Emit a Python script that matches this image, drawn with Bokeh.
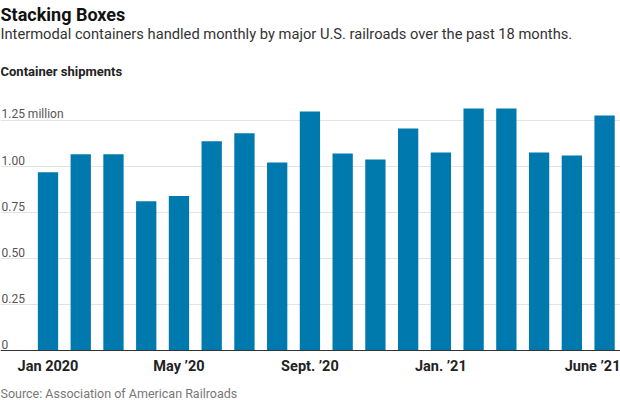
from bokeh.plotting import figure
from bokeh.models import Range1d, Span, Grid, FixedTicker
from bokeh.core.properties import value
from bokeh.embed import file_html
from bokeh.resources import INLINE

# ---------------- data ----------------
months = ["Jan 2020", "Feb 2020", "Mar 2020", "Apr 2020", "May 2020", "Jun 2020",
          "Jul 2020", "Aug 2020", "Sep 2020", "Oct 2020", "Nov 2020", "Dec 2020",
          "Jan 2021", "Feb 2021", "Mar 2021", "Apr 2021", "May 2021", "Jun 2021"]
shipments = [0.969, 1.067, 1.067, 0.811, 0.839, 1.137, 1.181, 1.022, 1.299,
             1.071, 1.038, 1.207, 1.076, 1.315, 1.315, 1.076, 1.060, 1.277]
x_tick_index = [0, 4, 8, 12, 17]
x_tick_labels = ["Jan 2020", "May \u201920", "Sept. \u201920", "Jan. \u201921", "June \u201921"]
y_ticks = [0, 0.25, 0.5, 0.75, 1.0, 1.25]
y_tick_labels = ["0", "0.25", "0.50", "0.75", "1.00", "1.25 million"]
title = "Stacking Boxes"
subtitle = "Intermodal containers handled monthly by major U.S. railroads over the past 18 months."
panel_title = "Container shipments"
source_note = "Source: Association of American Railroads"

# ---------------- layout ----------------
W, H = 620, 400
ZERO_PX = 350.0
TOP_TICK_PX = 120.0
PX_PER_UNIT = (ZERO_PX - TOP_TICK_PX) / y_ticks[-1]
FIRST_CENTER_PX = 47.5
PITCH_PX = 32.74
BAR_W = 0.62
DESCENT = 0.24  # compensation so that the visual baseline lands where wanted

x0 = -FIRST_CENTER_PX / PITCH_PX
x1 = x0 + W / PITCH_PX
y0 = -(H - ZERO_PX) / PX_PER_UNIT
y1 = ZERO_PX / PX_PER_UNIT


def xd(px):
    return x0 + px / PITCH_PX


def yd(py, size=0.0):
    return (ZERO_PX - (py - DESCENT * size)) / PX_PER_UNIT


FONT = value("Roboto")
BAR_COLOR = "#0079ae"

p = figure(width=W, height=H, x_range=Range1d(x0, x1), y_range=Range1d(y0, y1),
           title=None, x_axis_location=None, y_axis_location=None,
           toolbar_location=None, output_backend="svg", min_border=0,
           outline_line_color=None)
p.background_fill_color = "white"
p.border_fill_color = "white"
p.xgrid.visible = False
p.ygrid.visible = False

grid = Grid(dimension=1, ticker=FixedTicker(ticks=y_ticks[1:]),
            grid_line_color="#e3e3e3", grid_line_width=1)
p.add_layout(grid)

idx = list(range(len(months)))
p.vbar(x=idx, top=shipments, bottom=0, width=BAR_W, fill_color=BAR_COLOR,
       line_color=None)

p.add_layout(Span(location=0, dimension="width", line_color="#333333", line_width=1))

# y tick labels (above gridlines)
ys = 12
p.text(x=[xd(1)] * len(y_ticks),
       y=[t + (3.2 + DESCENT * ys) / PX_PER_UNIT for t in y_ticks],
       text=y_tick_labels, text_font=FONT, text_font_size=f"{ys}px",
       text_color="#555555", text_align="left", text_baseline="alphabetic")

# x tick labels
xs = 14.5
xl_y = yd(369.3, xs)
p.text(x=x_tick_index[:-1], y=[xl_y] * (len(x_tick_index) - 1),
       text=x_tick_labels[:-1], text_font=FONT, text_font_size=f"{xs}px",
       text_font_style="bold", text_color="#222222", text_align="center",
       text_baseline="alphabetic")
p.text(x=[x1], y=[xl_y], text=x_tick_labels[-1:], text_font=FONT,
       text_font_size=f"{xs}px", text_font_style="bold", text_color="#222222",
       text_align="right", text_baseline="alphabetic")

# titles
p.text(x=[xd(0)], y=[yd(18.3, 18)], text=[title], text_font=FONT, text_font_size="18px",
       text_font_style="bold", text_color="#111111", text_align="left",
       text_baseline="alphabetic")
p.text(x=[xd(0)], y=[yd(36.7, 14.7)], text=[subtitle], text_font=FONT,
       text_font_size="14.7px", text_color="#333333", text_align="left",
       text_baseline="alphabetic")
p.text(x=[xd(0)], y=[yd(74, 13)], text=[panel_title], text_font=FONT, text_font_size="13px",
       text_font_style="bold", text_color="#222222", text_align="left",
       text_baseline="alphabetic")
p.text(x=[xd(0)], y=[yd(395.5, 12.5)], text=[source_note], text_font=FONT,
       text_font_size="12.5px", text_color="#777777", text_align="left",
       text_baseline="alphabetic")

open("out.html", "w").write(file_html(p, INLINE))
